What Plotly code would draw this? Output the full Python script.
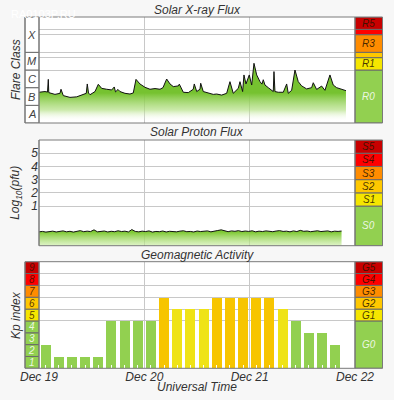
import plotly.graph_objects as go
import pandas as pd

# ---------------- data ----------------
START = pd.Timestamp("2023-12-19 00:00")
DAY_TICKS = ["2023-12-19", "2023-12-20", "2023-12-21", "2023-12-22"]

# X-ray flux (log10 W/m^2) : hours since Dec 19 00:00 UT
xray_hours = [0.0, 1.37, 1.94, 2.12, 2.23, 3.64, 4.78, 5.01, 5.54, 7.06, 8.59, 10.09, 10.77, 11.0,
              11.28, 11.62, 12.76, 13.51, 14.28, 15.42, 16.56, 17.15, 17.43, 18.0, 18.45, 19.59,
              20.73, 21.48, 22.1, 23.0, 24.15, 25.29, 26.43, 27.57, 28.25, 29.09, 29.85, 30.6,
              31.74, 31.97, 32.88, 34.02, 35.15, 35.38, 35.93, 36.68, 36.84, 37.43, 38.57, 39.71,
              40.48, 41.62, 42.76, 43.51, 44.26, 45.4, 45.79, 46.4, 46.7, 47.16, 47.91, 48.46,
              48.98, 49.6, 50.35, 50.8, 51.1, 51.49, 52.24, 53.38, 53.54, 53.76, 54.52, 55.66,
              56.43, 56.79, 57.57, 58.32, 59.07, 59.84, 60.98, 62.12, 62.49, 63.26, 64.4, 65.15,
              66.29, 67.04, 67.82, 68.96, 69.94]
xray_log = [-6.26, -6.22, -6.25, -5.53, -6.28, -6.38, -6.32, -6.09, -6.45, -6.55, -6.52, -6.38, -6.32, -5.79,
            -6.30, -6.40, -6.22, -5.81, -6.04, -6.09, -6.13, -5.96, -6.24, -6.10, -6.22, -6.32,
            -6.36, -6.30, -5.53, -5.79, -5.98, -6.09, -6.05, -6.09, -6.00, -5.51, -5.79, -5.94,
            -5.90, -5.80, -6.26, -6.28, -6.09, -5.79, -6.22, -6.09, -5.75, -6.22, -6.28, -6.38,
            -6.36, -6.42, -6.32, -5.66, -6.32, -6.04, -5.66, -6.22, -5.28, -5.79, -5.28, -5.85,
            -4.62, -5.28, -5.66, -5.80, -5.55, -5.85, -6.00, -6.22, -5.09, -6.22, -6.26, -6.26,
            -5.79, -6.32, -6.15, -5.00, -5.66, -5.90, -6.07, -6.00, -5.72, -6.10, -5.91, -6.15,
            -5.28, -5.85, -6.00, -6.10, -6.17]

# Proton flux (log10 pfu), regular cadence from Dec 19 00:00 UT
proton_step_min = 47
proton_log = [-0.95, -0.92, -0.97, -0.93, -0.90, -0.96, -0.94, -0.88, -0.95, -0.91,
              -0.97, -0.92, -0.86, -0.94, -0.90, -0.93, -0.80, -0.95, -0.92, -0.89,
              -0.96, -0.91, -0.94, -0.87, -0.93, -0.90, -0.96, -0.78, -0.92, -0.95,
              -0.90, -0.93, -0.88, -0.97, -0.92, -0.94, -0.89, -0.96, -0.91, -0.93,
              -0.95, -0.90, -0.87, -0.94, -0.92, -0.96, -0.89, -0.93, -0.91, -0.88,
              -0.95, -0.92, -0.85, -0.80, -0.90, -0.94, -0.88, -0.91, -0.86, -0.93,
              -0.89, -0.92, -0.87, -0.95, -0.90, -0.93, -0.88, -0.91, -0.94, -0.89,
              -0.86, -0.92, -0.90, -0.95, -0.88, -0.93, -0.84, -0.91, -0.89, -0.94,
              -0.90, -0.87, -0.93, -0.91, -0.88, -0.95, -0.90, -0.92, -0.89]

# Planetary Kp, 3-hour intervals starting Dec 19 00 UT (last interval missing)
kp_values = [2, 1, 1, 1, 1, 4, 4, 4,
             4, 6, 5, 5, 5, 6, 6, 6,
             6, 6, 5, 4, 3, 3, 2, None]

flare_classes = ["A", "B", "C", "M", "X"]
flare_bounds = [-8, -7, -6, -5, -4, -2]
r_labels = ["R0", "R1", "", "R3", "", "R5"]
r_bounds = [-8, -5, -4.3, -4, -3, -2.7, -2]
s_labels = ["S0", "S1", "S2", "S3", "S4", "S5"]
s_bounds = [-2, 1, 2, 3, 4, 5, 6]
g_labels = ["G0", "G1", "G2", "G3", "G4", "G5"]
g_bounds = [0, 4, 5, 6, 7, 8, 9]
kp_labels = ["1", "2", "3", "4", "5", "6", "7", "8", "9"]
proton_ticks = [1, 2, 3, 4, 5]

# ---------------- style ----------------
W, H = 394, 400
GREEN = "#92d050"
SCALE_COLORS = [GREEN, "#f5e600", "#ffc800", "#ff8c00", "#ff0000", "#c80000"]
KP_COLORS = [GREEN, GREEN, GREEN, GREEN, "#f5e600", "#ffc800", "#ff8c00", "#ff0000", "#c80000"]
BAR_COLORS = {5: "#efe316", 6: "#f7c500", 7: "#ff8c00", 8: "#ff0000", 9: "#c80000"}
FONT = "Liberation Sans, Arial, sans-serif"
TXT = "#333333"
FRAME = "#7a7a7a"
GRID = "#c8c8c8"


def fx(px):
    return px / W


def fy(py):
    return 1 - py / H


XL, X0, X1, XR = 25, 39, 355, 382.5
P1 = (17, 123)
P2 = (140, 245.7)
P3 = (261.7, 368.3)

fig = go.Figure()

# X-ray
xr_t = [START + pd.Timedelta(hours=h) for h in xray_hours]
fig.add_trace(go.Scatter(x=xr_t, y=[flare_bounds[0]] * len(xr_t), mode="lines",
                         line=dict(width=0), hoverinfo="skip", showlegend=False,
                         xaxis="x", yaxis="y"))
fig.add_trace(go.Scatter(x=xr_t, y=xray_log, mode="lines", fill="tonexty",
                         line=dict(color="#111111", width=1),
                         fillgradient=dict(type="vertical", start=-7.9, stop=-6.3,
                                           colorscale=[[0, "rgba(255,255,255,0)"],
                                                       [0.4, "rgba(175,222,125,0.65)"],
                                                       [1, "rgb(118,194,48)"]]),
                         showlegend=False, xaxis="x", yaxis="y"))

# Protons
pr_t = [START + pd.Timedelta(minutes=proton_step_min * i) for i in range(len(proton_log))]
fig.add_trace(go.Scatter(x=pr_t, y=[s_bounds[0]] * len(pr_t), mode="lines",
                         line=dict(width=0), hoverinfo="skip", showlegend=False,
                         xaxis="x2", yaxis="y2"))
fig.add_trace(go.Scatter(x=pr_t, y=proton_log, mode="lines", fill="tonexty",
                         line=dict(color="#111111", width=1),
                         fillgradient=dict(type="vertical", start=-2, stop=-0.95,
                                           colorscale=[[0, "rgba(200,235,160,0.6)"],
                                                       [1, "rgb(125,200,50)"]]),
                         showlegend=False, xaxis="x2", yaxis="y2"))

# Kp bars
kp_t = [START + pd.Timedelta(hours=3 * i + 1.5) for i in range(len(kp_values))]
kp_cols = [BAR_COLORS.get(v, GREEN) if v is not None else GREEN for v in kp_values]
fig.add_trace(go.Bar(x=kp_t, y=kp_values, marker=dict(color=kp_cols, line=dict(width=0)),
                     width=3 * 3600 * 1000 * 0.76, showlegend=False, xaxis="x3", yaxis="y3"))

# ---------------- axes ----------------
xr = [DAY_TICKS[0], DAY_TICKS[-1]]
xcommon = dict(type="date", range=xr, domain=[fx(X0), fx(X1)], showgrid=True,
               gridcolor=GRID, gridwidth=1, tickvals=DAY_TICKS, zeroline=False,
               showline=False, ticks="", fixedrange=True, automargin=False)
fig.update_layout(
    xaxis=dict(**xcommon, anchor="y", showticklabels=False),
    xaxis2=dict(**xcommon, anchor="y2", showticklabels=False),
    xaxis3=dict(**xcommon, anchor="y3", showticklabels=True, tickformat="%b %d",
                tickfont=dict(family=FONT, size=12, color=TXT, style="italic"),
                minor=dict(ticks="inside", ticklen=3, tickcolor="white", tickwidth=1,
                           tick0="2023-12-19 01:30", dtick=3 * 3600 * 1000, showgrid=False)),
    yaxis=dict(range=[flare_bounds[0], flare_bounds[-1]], domain=[fy(P1[1]), fy(P1[0])],
               tickvals=[-5, -4.3, -4, -3, -2.7], showticklabels=False, gridcolor=GRID,
               zeroline=False, anchor="x", fixedrange=True, automargin=False),
    yaxis2=dict(range=[s_bounds[0], s_bounds[-1]], domain=[fy(P2[1]), fy(P2[0])],
                tickvals=proton_ticks, ticktext=[str(v) for v in proton_ticks],
                tickfont=dict(family=FONT, size=12, color=TXT, style="italic"),
                gridcolor=GRID, zeroline=False, anchor="x2", ticks="", fixedrange=True,
                automargin=False),
    yaxis3=dict(range=[g_bounds[0], g_bounds[-1]], domain=[fy(P3[1]), fy(P3[0])],
                tickvals=[4, 5, 6, 7, 8], showticklabels=False, gridcolor=GRID,
                zeroline=False, anchor="x3", fixedrange=True, automargin=False),
    width=W, height=H, margin=dict(l=0, r=0, t=0, b=0, pad=0),
    paper_bgcolor="#f7f7f7", plot_bgcolor="white", bargap=0,
    font=dict(family=FONT, color=TXT),
)

shapes = []
ann = []


def box(x0, x1, yref, y0, y1, color, lw=1, lc="#6a6a6a"):
    shapes.append(dict(type="rect", xref="paper", yref=yref, x0=fx(x0), x1=fx(x1),
                       y0=y0, y1=y1, fillcolor=color, line=dict(color=lc, width=lw),
                       layer="above"))


def label(x, yref, y, text, color, size=10):
    ann.append(dict(xref="paper", yref=yref, x=fx(x), y=y, text=text, showarrow=False,
                    font=dict(family=FONT, size=size, color=color, style="italic"),
                    xanchor="center", yanchor="middle"))


# flare class column
for i, c in enumerate(flare_classes):
    box(XL, X0, "y", flare_bounds[i], flare_bounds[i + 1], "white")
    label((XL + X0) / 2, "y", (flare_bounds[i] + flare_bounds[i + 1]) / 2, c, "#444", 11)
# R scale
for i, t in enumerate(r_labels):
    box(X1, XR, "y", r_bounds[i], r_bounds[i + 1], SCALE_COLORS[i])
    if t:
        label((X1 + XR) / 2, "y", (r_bounds[i] + r_bounds[i + 1]) / 2, t,
              "rgba(255,255,255,0.85)" if i == 0 else "rgba(40,20,0,0.85)", 10)
# S scale
for i, t in enumerate(s_labels):
    box(X1, XR, "y2", s_bounds[i], s_bounds[i + 1], SCALE_COLORS[i])
    label((X1 + XR) / 2, "y2", (s_bounds[i] + s_bounds[i + 1]) / 2, t,
          "rgba(255,255,255,0.85)" if i == 0 else "rgba(40,20,0,0.85)", 10)
# G scale
for i, t in enumerate(g_labels):
    box(X1, XR, "y3", g_bounds[i], g_bounds[i + 1], SCALE_COLORS[i])
    label((X1 + XR) / 2, "y3", (g_bounds[i] + g_bounds[i + 1]) / 2, t,
          "rgba(255,255,255,0.85)" if i == 0 else "rgba(40,20,0,0.85)", 10)
# Kp column
for i, t in enumerate(kp_labels):
    box(XL, X0, "y3", i, i + 1, KP_COLORS[i])
    label((XL + X0) / 2, "y3", i + 0.5, t,
          "rgba(255,255,255,0.85)" if i < 4 else "rgba(60,20,0,0.85)", 10)

# panel frames
for (top, bot), left in ((P1, XL), (P2, X0), (P3, XL)):
    shapes.append(dict(type="rect", xref="paper", yref="paper", x0=fx(left), x1=fx(XR),
                       y0=fy(bot), y1=fy(top), line=dict(color=FRAME, width=1),
                       fillcolor="rgba(0,0,0,0)", layer="above"))
    for xv in (X0, X1):
        shapes.append(dict(type="line", xref="paper", yref="paper", x0=fx(xv), x1=fx(xv),
                           y0=fy(bot), y1=fy(top), line=dict(color=FRAME, width=1),
                           layer="above"))

# titles
cx = fx((X0 + X1) / 2)
for text, py in (("Solar X-ray Flux", 10), ("Solar Proton Flux", 131.5),
                 ("Geomagnetic Activity", 254.5), ("Universal Time", 387)):
    ann.append(dict(xref="paper", yref="paper", x=cx, y=fy(py), text=text, showarrow=False,
                    font=dict(family=FONT, size=12, color=TXT, style="italic"),
                    xanchor="center", yanchor="middle"))
for text, py in (("Flare Class", (P1[0] + P1[1]) / 2),
                 ("Log<sub>10</sub>(pfu)", (P2[0] + P2[1]) / 2),
                 ("Kp index", (P3[0] + P3[1]) / 2)):
    ann.append(dict(xref="paper", yref="paper", x=fx(16), y=fy(py), text=text, showarrow=False,
                    textangle=-90, font=dict(family=FONT, size=12, color=TXT, style="italic"),
                    xanchor="center", yanchor="middle"))
ann.append(dict(xref="paper", yref="paper", x=fx(9), y=fy(14), text="RA0103P.RU",
                showarrow=False, xanchor="left", yanchor="middle",
                font=dict(family=FONT, size=11, color="white")))

fig.update_layout(shapes=shapes, annotations=ann)
fig.write_html("out.html", config={"displayModeBar": False},
               post_script="document.body.style.margin='0';document.body.style.overflow='hidden';")
